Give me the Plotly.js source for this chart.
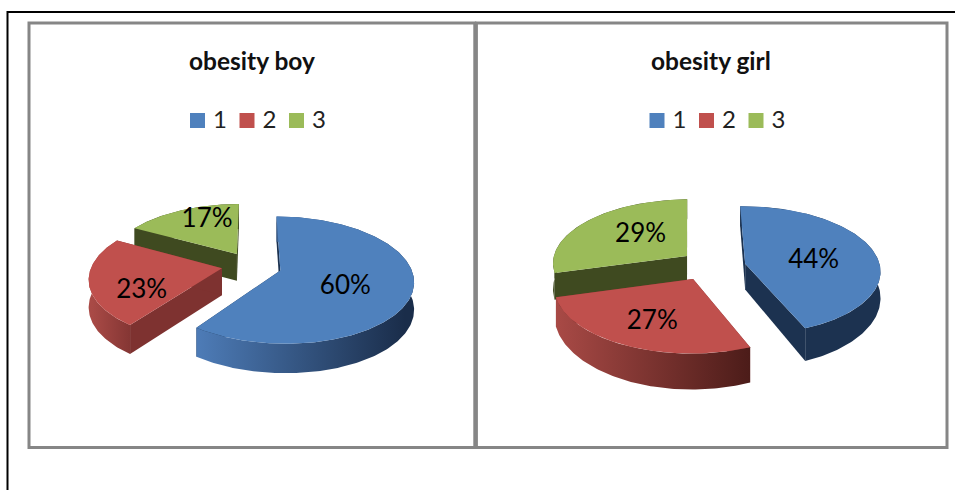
<!DOCTYPE html>
<html>
<head>
<meta charset="utf-8">
<script src="https://cdn.plot.ly/plotly-3.0.1.min.js"></script>
<style>html,body{margin:0;padding:0;background:#fff}#chart{width:955px;height:490px}</style>
</head>
<body>
<div id="chart"></div>
<script>
// Obesity share by grade, one tilted exploded pie per group.
const categories = ['1', '2', '3'];
const boyShares = [60, 23, 17];
const girlShares = [44, 27, 29];
const topColors = ['#4f81bd', '#c0504d', '#9bbb59'];

// Projection of each pie: centre, radii, perspective strength, explosion, extrusion.
const boyPie = {
  shares: boyShares, startDeg: 0, cx: 251, cy: 266, a: 130, b: 60.8, k: 0.15,
  explode: 0.235, depth: 27, depthPow: 0.5,
  labelR: [0.533, 0.673, 0.69], labelTurn: [11, -20, 7.6],
  nudge: [[0, 0], [1, -1], [1, 0]],
  rim: [['#4d7bb6', '#1a2d4a'], ['#a94a46', '#833533'], ['#3f4a20', '#3f4a20']],
  rimSpan: [[199, 405], [92, 132], [130, 240]],
  side: ['#1c3250', '#7e3230', '#3f4a20'],
  legendLeft: 197.5
};
const girlPie = {
  shares: girlShares, startDeg: -1, cx: 713.6, cy: 267, a: 135, b: 64, k: 0.1,
  explode: 0.24, depth: 26, depthPow: 2.5,
  labelR: [0.515, 0.666, 0.5], labelTurn: [7, -2, 6],
  nudge: [[0, 0], [-6, -2], [-1, -2]],
  rim: [['#1c3250', '#1c3250'], ['#a94a46', '#4c1c19'], ['#3f4a20', '#3f4a20']],
  rimSpan: [[740, 880], [555, 750], [552, 690]],
  side: ['#1c3250', '#7e3230', '#3f4a20'],
  legendLeft: 657
};
const legendRow = 120.5;
const legendTextRow = 122;
const legendPitch = 49.5;
const legendTextGap = 15.5;

const rad = d => d * Math.PI / 180;

function project(p, U, V, n) {
  const w = 1 + p.k * V;
  return {
    x: p.cx + n[0] + p.a * U / w,
    y: p.cy + n[1] - p.b * V / w,
    drop: p.depth / Math.pow(w, p.depthPow)
  };
}

function buildPie(p) {
  const traces = [];
  const total = p.shares.reduce((s, v) => s + v, 0);
  let acc = p.startDeg;
  const slices = p.shares.map((v, i) => {
    const from = acc;
    const to = acc + v / total * 360;
    acc = to;
    const mid = (from + to) / 2;
    return { i, v, from, to, mid,
      ou: p.explode * Math.sin(rad(mid)), ov: p.explode * Math.cos(rad(mid)) };
  });

  // Farthest wedge first so nearer wedges paint over it.
  [2, 1, 0].forEach(idx => {
    const s = slices[idx];
    const n = p.nudge[idx];
    const apex = project(p, s.ou, s.ov, n);
    const arc = [];
    const steps = Math.max(12, Math.round(s.to - s.from));
    for (let j = 0; j <= steps; j++) {
      const t = rad(s.from + (s.to - s.from) * j / steps);
      arc.push(project(p, s.ou + Math.sin(t), s.ov + Math.cos(t), n));
    }
    const first = arc[0], last = arc[arc.length - 1];
    const flat = color => ({ fillcolor: color, line: { width: 0, color: color } });

    // Straight cut walls along both radial edges.
    [first, last].forEach(edge => {
      traces.push(Object.assign({
        type: 'scatter', mode: 'lines', fill: 'toself', showlegend: false, hoverinfo: 'skip',
        x: [apex.x, edge.x, edge.x, apex.x, apex.x],
        y: [apex.y, edge.y, edge.y + edge.drop, apex.y + apex.drop, apex.y]
      }, flat(p.side[idx])));
    });

    // Curved outer wall, shaded from left to right.
    traces.push({
      type: 'scatter', mode: 'lines', fill: 'toself', showlegend: false, hoverinfo: 'skip',
      x: arc.map(q => q.x).concat(arc.slice().reverse().map(q => q.x)),
      y: arc.map(q => q.y).concat(arc.slice().reverse().map(q => q.y + q.drop)),
      line: { width: 0, color: p.rim[idx][0] },
      fillgradient: {
        type: 'horizontal', start: p.rimSpan[idx][0], stop: p.rimSpan[idx][1],
        colorscale: [[0, p.rim[idx][0]], [1, p.rim[idx][1]]]
      }
    });

    // Top face.
    traces.push(Object.assign({
      type: 'scatter', mode: 'lines', fill: 'toself', showlegend: false, hoverinfo: 'skip',
      x: [apex.x].concat(arc.map(q => q.x), apex.x),
      y: [apex.y].concat(arc.map(q => q.y), apex.y)
    }, flat(topColors[idx])));
  });

  // Percent labels inside each wedge.
  const spots = slices.map(s => {
    const t = rad(s.mid + p.labelTurn[s.i]);
    return project(p, s.ou + p.labelR[s.i] * Math.sin(t), s.ov + p.labelR[s.i] * Math.cos(t), p.nudge[s.i]);
  });
  traces.push({
    type: 'scatter', mode: 'text', showlegend: false, hoverinfo: 'skip',
    x: spots.map(q => q.x), y: spots.map(q => q.y),
    text: slices.map(s => s.v + '%'), textposition: 'middle center',
    textfont: { family: 'Lato, sans-serif', size: 26, color: '#000' }
  });

  // Compact key row above the pie: swatch followed by its category.
  const keyX = categories.map((_, i) => p.legendLeft + i * legendPitch);
  traces.push({
    type: 'scatter', mode: 'markers', showlegend: false, hoverinfo: 'skip',
    x: keyX, y: categories.map(() => legendRow),
    marker: { symbol: 'square', size: 15, color: topColors }
  });
  traces.push({
    type: 'scatter', mode: 'text', showlegend: false, hoverinfo: 'skip',
    x: keyX.map(v => v + legendTextGap), y: categories.map(() => legendTextRow),
    text: categories, textposition: 'middle right',
    textfont: { family: 'Lato, sans-serif', size: 24, color: '#222' }
  });
  return traces;
}

const layout = {
  width: 955, height: 490,
  margin: { l: 0, r: 0, t: 0, b: 0 },
  paper_bgcolor: '#fff', plot_bgcolor: '#fff',
  hovermode: false,
  showlegend: false,
  xaxis: { range: [0, 955], visible: false, fixedrange: true },
  yaxis: { range: [490, 0], visible: false, fixedrange: true },
  shapes: [
    { type: 'line', x0: 7.5, x1: 955, y0: 12, y1: 12, line: { color: '#000', width: 2 } },
    { type: 'line', x0: 7.5, x1: 7.5, y0: 11, y1: 490, line: { color: '#000', width: 2 } },
    { type: 'rect', x0: 29, x1: 474.8, y0: 23, y1: 447.5, line: { color: '#868686', width: 3 } },
    { type: 'rect', x0: 476.4, x1: 947, y0: 23, y1: 447.5, line: { color: '#868686', width: 3 } }
  ],
  annotations: [
    { text: '<b>obesity boy</b>', x: 251.5, y: 60 },
    { text: '<b>obesity girl</b>', x: 711, y: 60 }
  ].map(a => Object.assign(a, {
    xref: 'x', yref: 'y', showarrow: false, xanchor: 'center', yanchor: 'middle',
    font: { family: 'Lato, sans-serif', size: 24.5, color: '#111' }
  }))
};

const data = buildPie(boyPie).concat(buildPie(girlPie));
Plotly.newPlot('chart', data, layout, { displayModeBar: false, staticPlot: true });
</script>
</body>
</html>
